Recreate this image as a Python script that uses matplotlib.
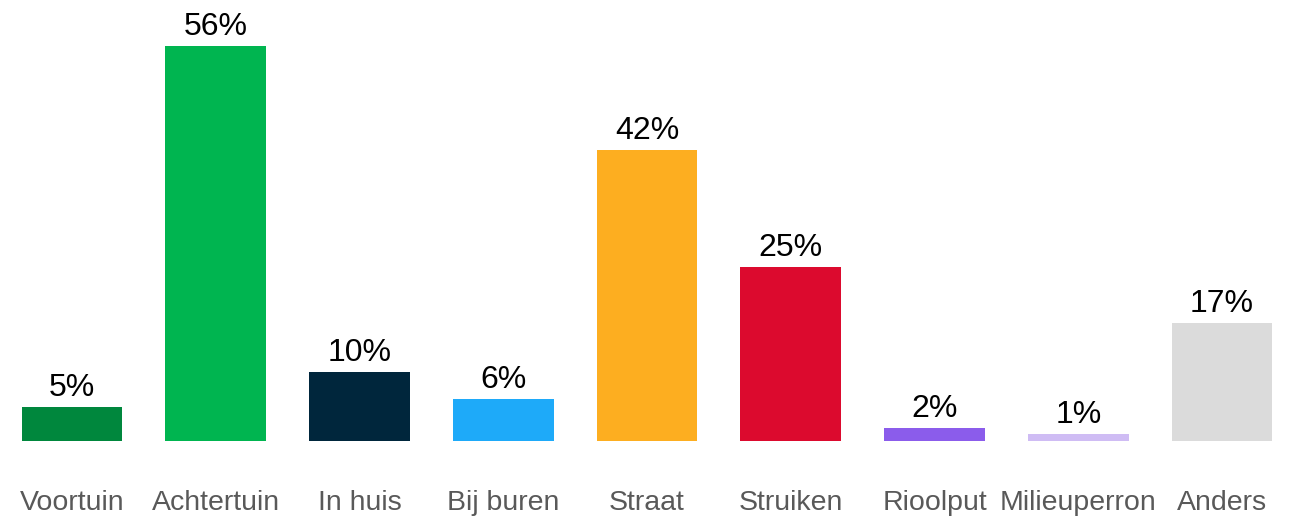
import matplotlib.pyplot as plt

# Data
categories = ["Voortuin", "Achtertuin", "In huis", "Bij buren", "Straat",
              "Struiken", "Rioolput", "Milieuperron", "Anders"]
# bar heights as drawn in the picture, and the labels printed above them
heights = [4.9, 57.0, 10.0, 6.0, 42.0, 25.1, 1.9, 1.0, 17.0]
labels = ["5%", "56%", "10%", "6%", "42%", "25%", "2%", "1%", "17%"]
colors = ["#00873D", "#00B550", "#00263C", "#1EAAF9", "#FDAE20",
          "#DC0A2E", "#8B5CEB", "#CFBCF4", "#DBDBDB"]

plt.rcParams['font.family'] = ['Liberation Sans', 'DejaVu Sans']

fig = plt.figure(figsize=(12.94, 5.18), dpi=100)
ax = fig.add_axes([0.0, 0.1486, 1.0, 0.8514])

x = range(len(categories))
bars = ax.bar(x, heights, width=0.7, color=colors)

for bar, lab in zip(bars, labels):
    ax.annotate(lab, (bar.get_x() + bar.get_width() / 2, bar.get_height()),
                xytext=(0, 3), textcoords="offset points",
                ha="center", va="bottom", fontsize=23, color="black")

ax.set_xlim(-0.5, len(categories) - 0.5)
ax.set_ylim(0, 63.6)
ax.set_xticks(list(x))
ax.set_xticklabels(categories, fontsize=20.5, color="#595959")
ax.tick_params(axis="x", length=0, pad=35)
ax.set_yticks([])
for s in ax.spines.values():
    s.set_visible(False)

fig.savefig("out.png", dpi=100)
